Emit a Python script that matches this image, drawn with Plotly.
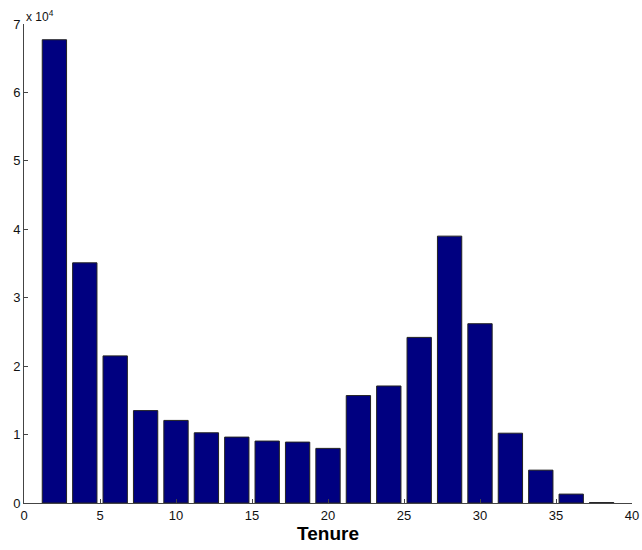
import plotly.graph_objects as go

tenure_centers = [2, 4, 6, 8, 10, 12, 14, 16, 18, 20, 22, 24, 26, 28, 30, 32, 34, 36, 38]
counts = [67700, 35100, 21500, 13500, 12070, 10260, 9630, 9050, 8900, 7980,
          15700, 17100, 24200, 39000, 26200, 10200, 4800, 1300, 60]
x_ticks = [0, 5, 10, 15, 20, 25, 30, 35, 40]
y_ticks = [0, 10000, 20000, 30000, 40000, 50000, 60000, 70000]
y_tick_labels = ["0", "1", "2", "3", "4", "5", "6", "7"]

fig = go.Figure()
fig.add_trace(go.Bar(
    x=tenure_centers, y=counts, width=1.6,
    marker=dict(color="#000080", line=dict(color="#222222", width=1)),
))

font = "Liberation Sans, Arial, Helvetica, sans-serif"
fig.update_layout(
    width=642, height=550,
    margin=dict(l=24, r=10, t=24, b=47),
    plot_bgcolor="white", paper_bgcolor="white",
    showlegend=False,
    font=dict(family=font, size=13, color="#111111"),
    xaxis=dict(range=[0, 40], tickvals=x_ticks, ticks="inside", ticklen=4,
               tickcolor="#444444", showline=True, linecolor="#444444", linewidth=1,
               showgrid=False, zeroline=False, automargin=False,
               title=dict(text="<b>Tenure</b>", font=dict(size=19, family=font, color="#000000"),
                          standoff=5)),
    yaxis=dict(range=[0, 70000], tickvals=y_ticks, ticktext=y_tick_labels,
               ticks="inside", ticklen=4, tickcolor="#444444",
               showline=True, linecolor="#444444", linewidth=1,
               showgrid=False, zeroline=False, automargin=False),
    annotations=[dict(text="x 10<sup>4</sup>", xref="paper", yref="paper",
                      x=0, y=1, xanchor="left", yanchor="bottom", showarrow=False,
                      font=dict(size=12, family=font, color="#111111"), yshift=-2)],
)

fig.write_html("out.html")
